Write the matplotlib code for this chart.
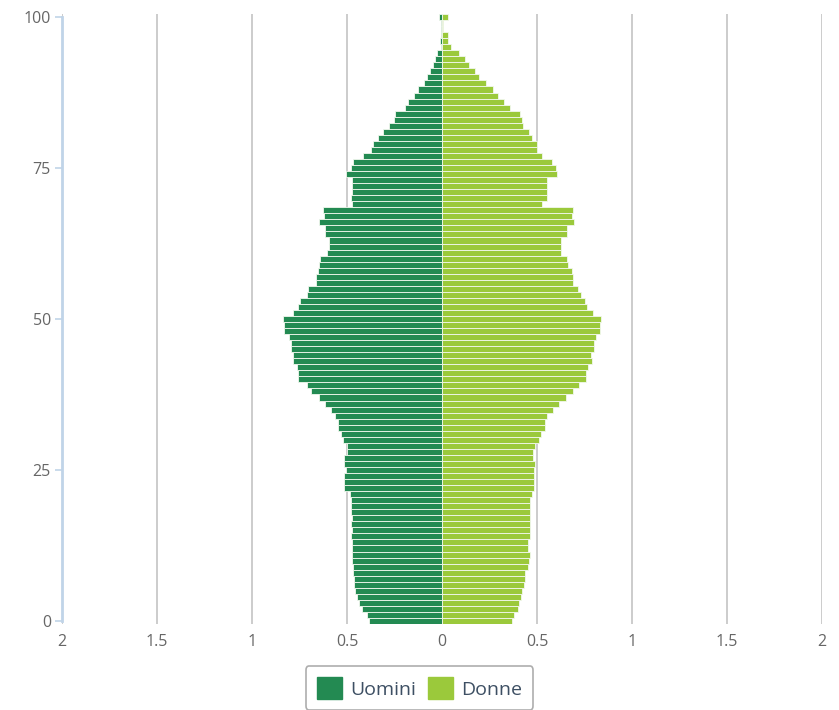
import numpy as np
import matplotlib
matplotlib.use("Agg")
import matplotlib.pyplot as plt
from matplotlib.patches import Patch

# --- Data: share of population (%) by single year of age, 0..100 ---
ages = list(range(0, 101))

uomini = [
    0.382, 0.396, 0.423, 0.435, 0.449, 0.456, 0.461, 0.465, 0.467, 0.470,  # 0-9
    0.475, 0.475, 0.475, 0.475, 0.481, 0.475, 0.481, 0.475, 0.481, 0.481,  # 10-19
    0.481, 0.484, 0.516, 0.516, 0.516, 0.505, 0.516, 0.516, 0.502, 0.502,  # 20-29
    0.519, 0.532, 0.549, 0.549, 0.563, 0.584, 0.616, 0.646, 0.691, 0.712,  # 30-39
    0.756, 0.756, 0.765, 0.782, 0.782, 0.796, 0.796, 0.805, 0.832, 0.832,  # 40-49
    0.839, 0.786, 0.756, 0.747, 0.712, 0.703, 0.665, 0.665, 0.654, 0.647,  # 50-59
    0.642, 0.607, 0.596, 0.596, 0.616, 0.616, 0.646, 0.621, 0.625, 0.475,  # 60-69
    0.480, 0.475, 0.475, 0.475, 0.505, 0.480, 0.467, 0.414, 0.375, 0.365,  # 70-79
    0.335, 0.309, 0.277, 0.253, 0.245, 0.193, 0.179, 0.147, 0.128, 0.095,  # 80-89
    0.077, 0.061, 0.046, 0.037, 0.028, 0.005, 0.010, 0.005, 0.003, 0.005,  # 90-99
    0.015,                                                                 # 100
]

donne = [
    0.370, 0.381, 0.402, 0.407, 0.414, 0.419, 0.432, 0.437, 0.437, 0.454,
    0.458, 0.463, 0.454, 0.454, 0.463, 0.463, 0.463, 0.463, 0.463, 0.463,
    0.463, 0.472, 0.486, 0.486, 0.486, 0.486, 0.489, 0.481, 0.477, 0.489,
    0.512, 0.519, 0.542, 0.542, 0.551, 0.582, 0.618, 0.653, 0.688, 0.723,
    0.758, 0.758, 0.770, 0.788, 0.782, 0.800, 0.800, 0.810, 0.832, 0.832,
    0.839, 0.796, 0.765, 0.753, 0.732, 0.718, 0.691, 0.691, 0.682, 0.665,
    0.656, 0.626, 0.626, 0.626, 0.656, 0.656, 0.696, 0.682, 0.690, 0.525,
    0.551, 0.551, 0.551, 0.551, 0.607, 0.600, 0.577, 0.525, 0.498, 0.498,
    0.475, 0.460, 0.428, 0.420, 0.410, 0.358, 0.328, 0.295, 0.270, 0.232,
    0.196, 0.174, 0.142, 0.120, 0.091, 0.046, 0.030, 0.030, 0.006, 0.005,
    0.030,
]

y_ticks = [0, 25, 50, 75, 100]
x_ticks = [-2, -1.5, -1, -0.5, 0, 0.5, 1, 1.5, 2]
x_tick_labels = ["2", "1.5", "1", "0.5", "0", "0.5", "1", "1.5", "2"]

# --- Style ---
COL_M = "#238A52"
COL_F = "#9BC93B"
TXT = "#666666"
plt.rcParams["font.family"] = ["Open Sans", "DejaVu Sans"]

fig = plt.figure(figsize=(8.39, 7.10), dpi=100)
ax = fig.add_axes([62 / 839, 1 - 624 / 710, 760 / 839, 610 / 710])

ax.barh(ages, -np.array(uomini), height=1.0, color=COL_M,
        edgecolor="#F2F8EE", linewidth=0.6, zorder=3)
ax.barh(ages, donne, height=1.0, color=COL_F,
        edgecolor="#F2F8EE", linewidth=0.6, zorder=3)

ax.set_xlim(-2, 2)
ax.set_ylim(-0.5, 100.5)

# vertical grid lines
ax.set_xticks(x_ticks)
ax.set_xticklabels(x_tick_labels)
ax.xaxis.grid(True, color="#C8C8C8", linewidth=1.3, zorder=0)
ax.tick_params(axis="x", length=0, colors=TXT, labelsize=11.5, pad=7)

ax.set_yticks(y_ticks)
ax.tick_params(axis="y", length=5, width=1.2, colors=TXT,
               labelsize=11.5, pad=3)
ax.tick_params(axis="y", color="#C0D4E8")

for side in ["top", "right", "bottom"]:
    ax.spines[side].set_visible(False)
ax.spines["left"].set_color("#C0D4E8")
ax.spines["left"].set_linewidth(2)
ax.spines["left"].set_bounds(0, 100)
ax.spines["left"].set_zorder(4)

# --- Legend ---
handles = [Patch(facecolor=COL_M, edgecolor=COL_M, label="Uomini"),
           Patch(facecolor=COL_F, edgecolor=COL_F, label="Donne")]
leg = fig.legend(handles=handles, loc="center", ncol=2,
                 bbox_to_anchor=(0.5, 0.031), frameon=True, fontsize=14,
                 handlelength=1.3, handleheight=1.3, handletextpad=0.4,
                 columnspacing=0.6, borderpad=0.6, fancybox=True)
leg.get_frame().set_edgecolor("#999999")
leg.get_frame().set_linewidth(1.2)
for t in leg.get_texts():
    t.set_color("#3D4F63")

fig.savefig("out.png", dpi=100)
